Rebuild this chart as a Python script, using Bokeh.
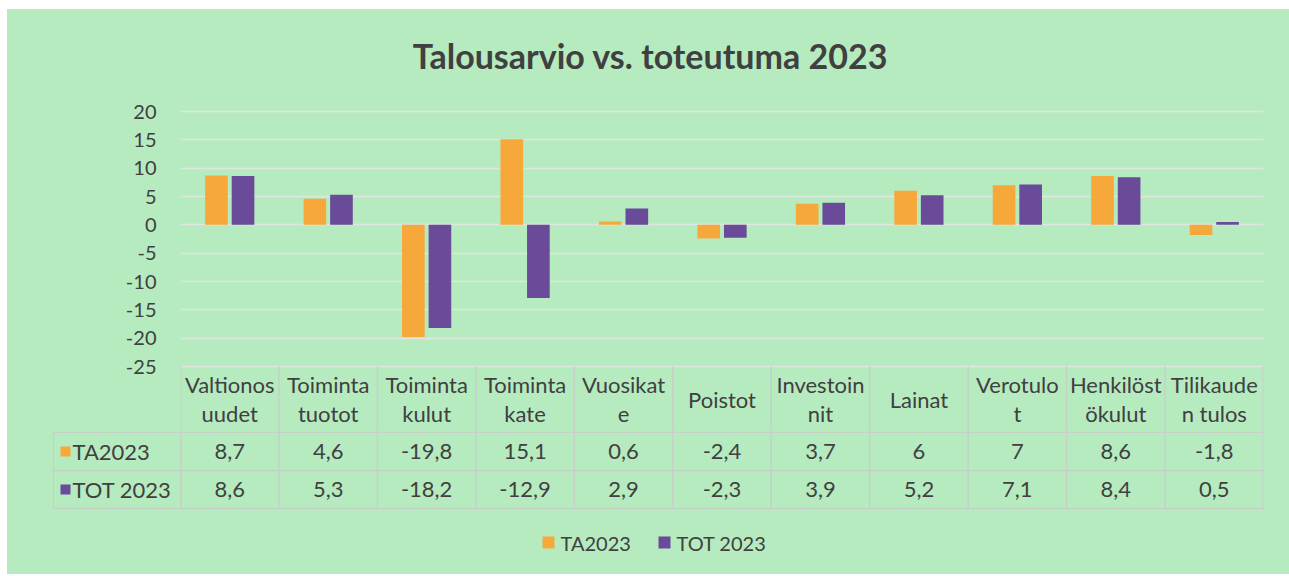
from bokeh.plotting import figure
from bokeh.models import FactorRange, Range1d, FixedTicker, ColumnDataSource
from bokeh.transform import dodge
from bokeh.layouts import column
from bokeh.core.properties import value
from bokeh.embed import file_html
from bokeh.resources import INLINE

# ---------------- data ----------------
title_text = "Talousarvio vs. toteutuma 2023"
categories = ["Valtionosuudet", "Toimintatuotot", "Toimintakulut", "Toimintakate",
              "Vuosikate", "Poistot", "Investoinnit", "Lainat", "Verotulot",
              "Henkilöstökulut", "Tilikauden tulos"]
tick_labels = ["Valtionos\nuudet", "Toiminta\ntuotot", "Toiminta\nkulut", "Toiminta\nkate",
               "Vuosikat\ne", "Poistot", "Investoin\nnit", "Lainat", "Verotulo\nt",
               "Henkilöst\nökulut", "Tilikaude\nn tulos"]
series_names = ["TA2023", "TOT 2023"]
ta2023 = [8.7, 4.6, -19.8, 15.1, 0.6, -2.4, 3.7, 6, 7, 8.6, -1.8]
tot2023 = [8.6, 5.3, -18.2, -12.9, 2.9, -2.3, 3.9, 5.2, 7.1, 8.4, 0.5]
y_ticks = [-25, -20, -15, -10, -5, 0, 5, 10, 15, 20]

# ---------------- style / layout (page pixels) ----------------
BG = "#b6ebc0"
ORANGE = "#f7a83a"
PURPLE = "#694b99"
TEXT = "#404040"
GRID = "#dfe6df"
TLINE = "#c6d0c7"
FONT = "Lato"

OX, OY = 7, 9                # layout origin on the page
W = 1289 - OX
FRAME_L, FRAME_R = 180, 1263   # chart plot area
Y_TOP_PX, Y_BOT_PX = 111, 366  # pixel rows of the top and bottom y ticks
ROW1_PX = 431                  # bottom of table header row
TBL_L = 52                     # left edge of row-label column
n = len(categories)
PXU = (FRAME_R - FRAME_L) / n
PXY = (Y_BOT_PX - Y_TOP_PX) / (y_ticks[-1] - y_ticks[0])


def sx(px):          # page x -> category (synthetic) coordinate
    return (px - FRAME_L) / PXU


def sy(py):          # page y -> value coordinate
    return y_ticks[-1] + (Y_TOP_PX - py) / PXY


# ---------------- chart ----------------
src = ColumnDataSource(dict(cat=categories, ta=ta2023, tot=tot2023))
TOP_H = ROW1_PX - OY

p = figure(width=W, height=TOP_H, x_range=FactorRange(*categories, range_padding=0),
           y_range=Range1d(sy(ROW1_PX), sy(OY)),
           output_backend="svg", toolbar_location=None, x_axis_type=None,
           min_border_left=FRAME_L - OX, min_border_right=1289 - FRAME_R,
           min_border_top=0, min_border_bottom=0, frame_align=False,
           background_fill_color=BG, border_fill_color=BG, outline_line_color=None)

p.yaxis.ticker = FixedTicker(ticks=y_ticks)
p.yaxis.major_label_overrides = {t: str(t) for t in y_ticks}
p.yaxis.axis_line_color = None
p.yaxis.major_tick_line_color = None
p.yaxis.minor_tick_line_color = None
p.yaxis.major_label_text_font = FONT
p.yaxis.major_label_text_font_size = "20px"
p.yaxis.major_label_text_color = TEXT
p.yaxis.major_label_standoff = 18
p.ygrid.ticker = FixedTicker(ticks=y_ticks)
p.ygrid.grid_line_color = GRID
p.ygrid.grid_line_width = 1.5
p.xgrid.grid_line_color = None

# title
p.text(x=[sx(650)], y=[sy(55)], text=[title_text], text_align="center", text_baseline="middle",
       text_font=value(FONT), text_font_size="34px", text_font_style="bold", text_color=TEXT)

p.vbar(x=dodge("cat", -0.135, range=p.x_range), top="ta", bottom=0, width=0.23,
       source=src, fill_color=ORANGE, line_color=None)
p.vbar(x=dodge("cat", 0.135, range=p.x_range), top="tot", bottom=0, width=0.23,
       source=src, fill_color=PURPLE, line_color=None)

# table header row (categories) just under the plot area
bounds = list(range(n + 1))
bounds[0] += 0.004
bounds[-1] -= 0.004
p.segment(x0=bounds, y0=[y_ticks[0]] * len(bounds), x1=bounds, y1=[sy(ROW1_PX)] * len(bounds),
          line_color=TLINE, line_width=1.5)
p.text(x=[i + 0.5 for i in range(n)], y=[sy((Y_BOT_PX + ROW1_PX) / 2)] * n, text=tick_labels,
       text_align="center", text_baseline="middle", text_font=value(FONT),
       text_font_size="22px", text_color=TEXT, text_line_height=1.05)

# ---------------- table data rows + legend ----------------
TBL_H = 576 - 2 - ROW1_PX
t = figure(width=W, height=TBL_H, x_range=Range1d(sx(TBL_L), n), y_range=Range1d(TBL_H, 0),
           output_backend="svg", toolbar_location=None, x_axis_type=None, y_axis_type=None,
           min_border_left=TBL_L - OX, min_border_right=1289 - FRAME_R,
           min_border_top=0, min_border_bottom=0, frame_align=False,
           background_fill_color=BG, border_fill_color=BG, outline_line_color=None)
t.grid.visible = False

R0, R1, R2 = 0.75, 39, 77
xl = sx(TBL_L) + 0.008
t.segment(x0=bounds, y0=[0] * len(bounds), x1=bounds, y1=[R2] * len(bounds),
          line_color=TLINE, line_width=1.5)
t.segment(x0=[xl], y0=[R0], x1=[xl], y1=[R2], line_color=TLINE, line_width=1.5)
t.segment(x0=[xl] * 3, y0=[R0, R1, R2], x1=[n] * 3, y1=[R0, R1, R2],
          line_color=TLINE, line_width=1.5)


def fmt(v):
    return f"{v:g}".replace(".", ",")


xs = [i + 0.5 for i in range(n)]
row_y = [(R0 + R1) / 2, (R1 + R2) / 2]
for vals, yy in zip([ta2023, tot2023], row_y):
    t.text(x=xs, y=[yy] * n, text=[fmt(v) for v in vals], text_align="center",
           text_baseline="middle", text_font=value(FONT), text_font_size="22px", text_color=TEXT)

t.scatter(x=[sx(65)] * 2, y=row_y, marker="square", size=10,
          fill_color=[ORANGE, PURPLE], line_color=None)
t.text(x=[sx(72)] * 2, y=row_y, text=series_names, text_align="left",
       text_baseline="middle", text_font=value(FONT), text_font_size="22px", text_color=TEXT)

# bottom legend
LEG_Y = 542 - ROW1_PX
key_px = [548, 664]
t.scatter(x=[sx(k) for k in key_px], y=[LEG_Y] * 2, marker="square", size=12,
          fill_color=[ORANGE, PURPLE], line_color=None)
t.text(x=[sx(k + 12) for k in key_px], y=[LEG_Y] * 2, text=series_names,
       text_align="left", text_baseline="middle", text_font=value(FONT),
       text_font_size="20px", text_color=TEXT)

layout = column(p, t, spacing=0, margin=(OY, 0, 0, OX), styles={"background-color": BG})
open("out.html", "w").write(file_html(layout, INLINE))
